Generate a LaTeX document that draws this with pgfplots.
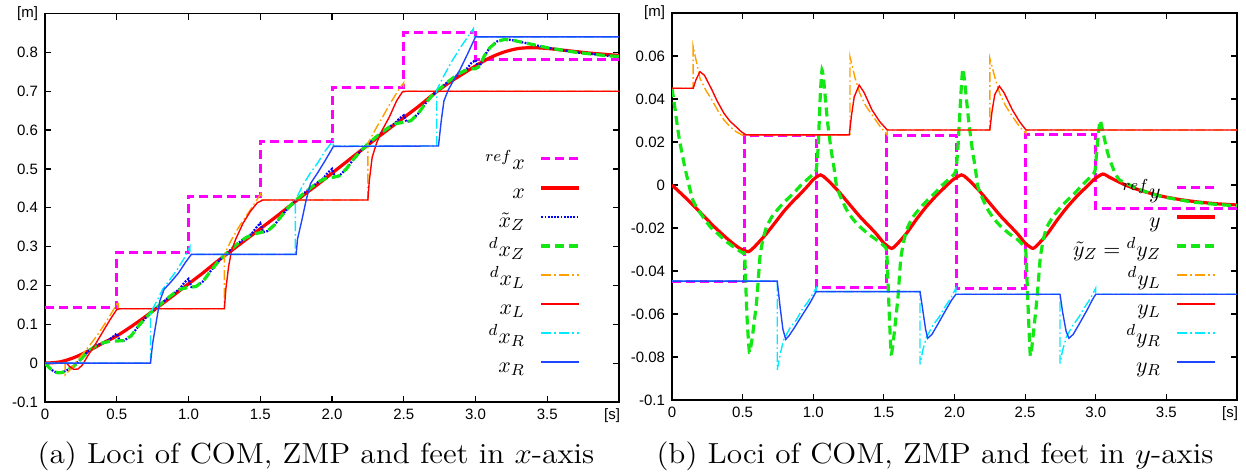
\documentclass[border=0pt]{standalone}
\usepackage{fontspec}
\setsansfont{Liberation Sans}
\usepackage{pgfplots}
\pgfplotsset{compat=1.18}

\definecolor{gpmag}{RGB}{255,0,255}
\definecolor{gpred}{RGB}{255,0,0}
\definecolor{gpblue}{RGB}{0,0,255}
\definecolor{gpgreen}{RGB}{20,232,20}
\definecolor{gporange}{RGB}{255,160,0}
\definecolor{gpcyan}{RGB}{0,235,255}
\definecolor{gpfoot}{RGB}{30,70,255}

\pgfplotsset{
  gpaxis/.style={
    scale only axis, anchor=south west,
    xmin=0, xmax=4,
    axis line style={line width=0.75pt},
    tick align=inside, major tick length=3pt,
    tick style={black, line width=0.6pt},
    xtick={0,0.5,1,1.5,2,2.5,3,3.5,4},
    xticklabels={0,0.5,1.0,1.5,2.0,2.5,3.0,3.5,\hspace*{-7pt}[s]},
    ticklabel style={font=\fontsize{7.5}{9}\selectfont\sffamily},
    legend cell align=right, legend plot pos=right,
    legend image code/.code={\draw[##1] (0pt,3.5pt) -- (19pt,3.5pt);},
    legend style={draw=none, fill=none, inner sep=0pt, outer sep=0pt,
      anchor=north east, font=\fontsize{11}{13}\selectfont,
      row sep=0pt, column sep=7.5pt,
      nodes={inner sep=0pt, text height=9pt, text depth=5.5pt}},
  },
  refstep/.style={gpmag, line width=1.5pt, dash pattern=on 4.5pt off 2.5pt},
  com/.style={gpred, line width=1.6pt},
  zmpt/.style={gpblue, line width=1.1pt, dash pattern=on 0.9pt off 0.7pt},
  zmpd/.style={gpgreen, line width=1.6pt, dash pattern=on 4.5pt off 2.5pt},
  footLd/.style={gporange, line width=0.7pt, dash pattern=on 5pt off 1.5pt on 0.8pt off 1.5pt},
  footL/.style={gpred, line width=0.7pt},
  footRd/.style={gpcyan, line width=0.7pt, dash pattern=on 5pt off 1.5pt on 0.8pt off 1.5pt},
  footR/.style={gpfoot, line width=0.7pt},
}

\begin{document}
\begin{tikzpicture}
\path[use as bounding box] (0pt,0pt) rectangle (623pt,235.5pt);

% (a) x-axis
\begin{axis}[gpaxis, at={(22.5pt,34.5pt)}, width=287pt, height=194.25pt,
  ymin=-0.1, ymax=0.9,
  ytick={-0.1,0,0.1,0.2,0.3,0.4,0.5,0.6,0.7,0.8,0.9},
  yticklabels={-0.1,0,0.1,0.2,0.3,0.4,0.5,0.6,0.7,0.8,\raisebox{-3pt}{[m]}},
  legend style={at={(axis cs:3.735,0.545)}},
]
\addplot[refstep] coordinates {
(0,0.142)(0.5,0.142)(0.5,0.286)(1.0,0.286)(1.0,0.43)(1.5,0.43)(1.5,0.571)(2.0,0.571)
(2.0,0.71)(2.5,0.71)(2.5,0.851)(3.0,0.851)(3.0,0.782)(4.0,0.782)};
\addlegendentry{${}^{ref}x$}
\addplot[com, smooth] coordinates {
(0,0)(0.1,0.003)(0.2,0.014)(0.3,0.031)(0.4,0.051)(0.5,0.07)(0.6,0.094)(0.7,0.12)
(0.8,0.148)(0.9,0.176)(1.0,0.204)(1.1,0.232)(1.2,0.262)(1.3,0.29)(1.4,0.318)(1.5,0.346)
(1.6,0.374)(1.7,0.403)(1.8,0.432)(1.9,0.46)(2.0,0.489)(2.1,0.518)(2.2,0.547)(2.3,0.576)
(2.4,0.604)(2.5,0.632)(2.6,0.66)(2.7,0.69)(2.8,0.718)(2.9,0.742)(3.0,0.765)(3.1,0.786)
(3.2,0.801)(3.3,0.81)(3.4,0.812)(3.5,0.81)(3.6,0.806)(3.7,0.802)(3.8,0.798)(3.9,0.795)(4.0,0.792)};
\addlegendentry{$x$}
\addplot[zmpt] coordinates {
(0,0)(0.03,-0.012)(0.06,-0.021)(0.09,-0.025)(0.12,-0.024)(0.16,-0.017)(0.2,-0.008)
(0.25,0.01)(0.3,0.03)(0.35,0.044)(0.4,0.052)(0.44,0.058)(0.47,0.067)(0.5,0.076)(0.52,0.058)
(0.55,0.058)(0.6,0.07)(0.65,0.095)(0.7,0.116)(0.75,0.134)(0.8,0.15)(0.85,0.166)(0.9,0.18)
(0.94,0.192)(0.97,0.207)(1.0,0.217)(1.02,0.196)(1.05,0.197)(1.1,0.21)(1.15,0.235)(1.2,0.258)
(1.25,0.278)(1.3,0.294)(1.35,0.31)(1.4,0.323)(1.44,0.333)(1.47,0.348)(1.5,0.36)(1.52,0.337)
(1.55,0.34)(1.6,0.356)(1.65,0.38)(1.7,0.402)(1.75,0.42)(1.8,0.436)(1.85,0.451)(1.9,0.465)
(1.94,0.476)(1.97,0.49)(2.0,0.5)(2.02,0.479)(2.05,0.482)(2.1,0.5)(2.15,0.525)(2.2,0.546)
(2.25,0.564)(2.3,0.58)(2.35,0.595)(2.4,0.608)(2.44,0.618)(2.47,0.63)(2.5,0.638)(2.52,0.621)
(2.55,0.624)(2.6,0.642)(2.65,0.668)(2.7,0.69)(2.75,0.706)(2.8,0.722)(2.85,0.736)(2.9,0.748)
(2.94,0.758)(2.97,0.772)(3.0,0.78)(3.02,0.763)(3.04,0.772)(3.06,0.79)(3.1,0.812)(3.15,0.828)
(3.2,0.833)(3.25,0.832)(3.3,0.828)(3.4,0.82)(3.5,0.812)(3.6,0.806)(3.7,0.8)(3.8,0.796)
(3.9,0.792)(4.0,0.789)};
\addlegendentry{$\tilde{x}_Z$}
\addplot[zmpd] coordinates {
(0,0)(0.03,-0.012)(0.06,-0.021)(0.09,-0.025)(0.12,-0.024)(0.16,-0.017)(0.2,-0.008)
(0.25,0.01)(0.3,0.03)(0.35,0.044)(0.4,0.052)(0.45,0.056)(0.5,0.057)(0.55,0.058)(0.6,0.07)
(0.65,0.095)(0.7,0.116)(0.75,0.134)(0.8,0.15)(0.85,0.166)(0.9,0.18)(0.95,0.191)(1.0,0.195)
(1.05,0.197)(1.1,0.21)(1.15,0.235)(1.2,0.258)(1.25,0.278)(1.3,0.294)(1.35,0.31)(1.4,0.323)
(1.45,0.332)(1.5,0.336)(1.55,0.34)(1.6,0.356)(1.65,0.38)(1.7,0.402)(1.75,0.42)(1.8,0.436)
(1.85,0.451)(1.9,0.465)(1.95,0.475)(2.0,0.478)(2.05,0.482)(2.1,0.5)(2.15,0.525)(2.2,0.546)
(2.25,0.564)(2.3,0.58)(2.35,0.595)(2.4,0.608)(2.45,0.617)(2.5,0.62)(2.55,0.624)(2.6,0.642)
(2.65,0.668)(2.7,0.69)(2.75,0.706)(2.8,0.722)(2.85,0.736)(2.9,0.748)(2.95,0.757)(3.0,0.758)
(3.03,0.765)(3.06,0.79)(3.1,0.812)(3.15,0.828)(3.2,0.833)(3.25,0.832)(3.3,0.828)(3.4,0.82)
(3.5,0.812)(3.6,0.806)(3.7,0.8)(3.8,0.796)(3.9,0.792)(4.0,0.789)};
\addlegendentry{${}^{d}x_Z$}
\addplot[footLd] coordinates {
(0,0)(0.14,0)(0.14,-0.03)(0.18,-0.015)(0.22,0.005)(0.27,0.027)(0.32,0.05)(0.37,0.075)
(0.42,0.103)(0.47,0.133)(0.51,0.158)(0.51,0.14)(1.25,0.14)(1.25,0.28)(1.3,0.318)(1.35,0.35)
(1.4,0.378)(1.45,0.405)(1.51,0.44)(1.51,0.42)(2.25,0.42)(2.25,0.566)(2.3,0.6)(2.35,0.632)
(2.4,0.665)(2.45,0.695)(2.5,0.722)(2.5,0.7)(4.0,0.7)};
\addlegendentry{${}^{d}x_L$}
\addplot[footL] coordinates {
(0,0)(0.15,0)(0.17,-0.008)(0.2,-0.016)(0.23,-0.015)(0.26,-0.005)(0.3,0.02)(0.35,0.048)
(0.4,0.079)(0.45,0.11)(0.5,0.138)(0.52,0.14)(1.25,0.14)(1.26,0.19)(1.28,0.25)(1.3,0.29)
(1.33,0.32)(1.38,0.36)(1.43,0.39)(1.48,0.413)(1.52,0.42)(2.25,0.42)(2.26,0.47)(2.28,0.53)
(2.31,0.566)(2.35,0.6)(2.4,0.634)(2.45,0.675)(2.49,0.698)(2.52,0.7)(4.0,0.7)};
\addlegendentry{$x_L$}
\addplot[footRd] coordinates {
(0,0)(0.735,0)(0.735,0.13)(0.78,0.16)(0.82,0.19)(0.87,0.215)(0.92,0.24)(0.97,0.27)
(1.01,0.3)(1.01,0.28)(1.745,0.28)(1.745,0.42)(1.8,0.46)(1.85,0.49)(1.9,0.515)(1.95,0.545)
(2.01,0.574)(2.01,0.559)(2.73,0.559)(2.73,0.703)(2.78,0.74)(2.84,0.78)(2.9,0.815)
(2.985,0.861)(2.985,0.84)(4.0,0.84)};
\addlegendentry{${}^{d}x_R$}
\addplot[footR] coordinates {
(0,0)(0.735,0)(0.75,0.05)(0.77,0.095)(0.8,0.16)(0.83,0.19)(0.88,0.21)(0.93,0.232)
(0.98,0.26)(1.02,0.28)(1.75,0.28)(1.76,0.32)(1.79,0.368)(1.82,0.42)(1.85,0.462)(1.9,0.49)
(1.95,0.52)(2.01,0.558)(2.742,0.559)(2.76,0.62)(2.78,0.675)(2.81,0.703)(2.85,0.73)
(2.89,0.754)(2.95,0.8)(3.0,0.84)(4.0,0.84)};
\addlegendentry{$x_R$}
\end{axis}

% (b) y-axis
\begin{axis}[gpaxis, at={(336pt,35.5pt)}, width=282.5pt, height=193.5pt,
  ymin=-0.1, ymax=0.08,
  ytick={-0.1,-0.08,-0.06,-0.04,-0.02,0,0.02,0.04,0.06,0.08},
  yticklabels={-0.1,-0.08,-0.06,-0.04,-0.02,0,0.02,0.04,0.06,\raisebox{-3pt}{[m]}},
  legend style={at={(axis cs:3.858,0.0021)}},
]
\addplot[refstep] coordinates {
(0,-0.045)(0.515,-0.045)(0.515,0.023)(1.022,0.023)(1.022,-0.0478)(1.52,-0.0478)
(1.52,0.023)(2.013,0.023)(2.013,-0.048)(2.505,-0.048)(2.505,0.0233)(3.0,0.0233)
(3.0,-0.0108)(4.0,-0.0108)};
\addlegendentry{${}^{ref}y$}
\addplot[com, smooth, tension=0.4] coordinates {
(0,0)(0.1,-0.0062)(0.2,-0.0128)(0.3,-0.0195)(0.4,-0.0255)(0.48,-0.0295)(0.54,-0.031)
(0.58,-0.029)(0.63,-0.0255)(0.67,-0.0225)(0.73,-0.0175)(0.79,-0.0124)(0.85,-0.008)
(0.9,-0.0047)(0.96,-0.0005)(1.0,0.0025)(1.05,0.0047)(1.09,0.003)(1.17,-0.0023)(1.25,-0.0085)
(1.33,-0.0147)(1.4,-0.0195)(1.45,-0.023)(1.5,-0.027)(1.555,-0.0295)(1.6,-0.027)(1.66,-0.0225)
(1.73,-0.016)(1.8,-0.0101)(1.87,-0.005)(1.94,-0.0005)(1.99,0.0025)(2.05,0.0047)(2.09,0.003)
(2.17,-0.0023)(2.25,-0.0085)(2.33,-0.0147)(2.4,-0.0195)(2.45,-0.023)(2.5,-0.027)
(2.555,-0.0295)(2.6,-0.027)(2.66,-0.0225)(2.73,-0.016)(2.8,-0.0101)(2.87,-0.005)
(2.94,-0.0005)(2.99,0.0027)(3.05,0.0051)(3.1,0.0035)(3.17,0.0012)(3.24,-0.0008)
(3.35,-0.0032)(3.48,-0.0054)(3.6,-0.0068)(3.71,-0.0078)(3.85,-0.0087)(4.0,-0.0093)};
\addlegendentry{$y$}
\addplot[zmpd, smooth, tension=0.3] coordinates {
(0,0.045)(0.02,0.036)(0.05,0.022)(0.09,0.0085)(0.12,0.0)(0.15,-0.0075)(0.2,-0.013)
(0.27,-0.0194)(0.33,-0.023)(0.387,-0.0264)(0.45,-0.0295)(0.505,-0.0318)(0.515,-0.033)
(0.53,-0.06)(0.548,-0.0778)(0.57,-0.07)(0.6,-0.0535)(0.623,-0.0333)(0.645,-0.025)
(0.67,-0.0194)(0.71,-0.0145)(0.765,-0.0101)(0.81,-0.007)(0.859,-0.0039)(0.91,-0.0003)
(0.953,0.0023)(0.99,0.0045)(1.02,0.0067)(1.035,0.018)(1.05,0.042)(1.062,0.0535)(1.075,0.048)
(1.1,0.03)(1.125,0.017)(1.147,0.008)(1.166,-0.0008)(1.2,-0.0065)(1.237,-0.0116)
(1.28,-0.0158)(1.33,-0.0194)(1.39,-0.0228)(1.45,-0.0256)(1.5,-0.0283)(1.52,-0.031)
(1.535,-0.055)(1.552,-0.0785)(1.575,-0.068)(1.6,-0.052)(1.62,-0.034)(1.645,-0.025)
(1.67,-0.0194)(1.71,-0.0145)(1.765,-0.0101)(1.81,-0.007)(1.859,-0.0039)(1.91,-0.0003)
(1.953,0.0023)(1.99,0.0045)(2.01,0.0067)(2.025,0.018)(2.045,0.042)(2.058,0.054)(2.072,0.048)
(2.1,0.03)(2.125,0.017)(2.147,0.008)(2.166,-0.0008)(2.2,-0.0065)(2.237,-0.0116)
(2.28,-0.0158)(2.33,-0.0194)(2.39,-0.0228)(2.45,-0.0256)(2.49,-0.0283)(2.505,-0.031)
(2.52,-0.055)(2.537,-0.0795)(2.56,-0.068)(2.585,-0.052)(2.607,-0.034)(2.63,-0.025)
(2.655,-0.0194)(2.7,-0.0145)(2.755,-0.0101)(2.8,-0.007)(2.85,-0.0039)(2.9,-0.0003)
(2.94,0.0023)(2.975,0.0045)(2.995,0.0067)(3.01,0.018)(3.03,0.03)(3.05,0.025)(3.08,0.016)
(3.1,0.0116)(3.14,0.005)(3.17,0.0023)(3.24,0.0)(3.3,-0.0018)(3.4,-0.0042)(3.5,-0.0058)
(3.6,-0.007)(3.7,-0.008)(3.85,-0.009)(4.0,-0.0097)};
\addlegendentry{$\tilde{y}_Z={}^{d}y_Z$}
\addplot[footLd] coordinates {
(0,0.045)(0.15,0.045)(0.15,0.0643)(0.198,0.0496)(0.24,0.044)(0.283,0.0395)(0.325,0.0345)
(0.368,0.0302)(0.41,0.0272)(0.453,0.0248)(0.518,0.0225)(0.518,0.0233)(1.26,0.0233)
(1.26,0.0597)(1.295,0.05)(1.33,0.0426)(1.37,0.037)(1.416,0.0326)(1.47,0.0275)(1.524,0.0233)
(1.524,0.0256)(2.25,0.0256)(2.25,0.0589)(2.29,0.049)(2.32,0.0426)(2.36,0.037)(2.41,0.0318)
(2.46,0.0272)(2.506,0.024)(2.506,0.0256)(4.0,0.0256)};
\addlegendentry{${}^{d}y_L$}
\addplot[footL] coordinates {
(0,0.045)(0.15,0.045)(0.17,0.049)(0.198,0.0527)(0.23,0.051)(0.283,0.0442)(0.32,0.039)
(0.368,0.0333)(0.41,0.0297)(0.453,0.0271)(0.49,0.0248)(0.524,0.0233)(1.255,0.0233)
(1.27,0.032)(1.29,0.041)(1.325,0.0465)(1.36,0.043)(1.416,0.0349)(1.47,0.0295)(1.524,0.0256)
(2.25,0.0256)(2.265,0.034)(2.285,0.042)(2.317,0.046)(2.35,0.043)(2.41,0.0349)(2.46,0.0295)
(2.506,0.0256)(4.0,0.0256)};
\addlegendentry{$y_L$}
\addplot[footRd] coordinates {
(0,-0.0447)(0.745,-0.0447)(0.745,-0.086)(0.765,-0.079)(0.79,-0.072)(0.835,-0.0665)
(0.88,-0.0628)(0.92,-0.058)(0.963,-0.0543)(1.02,-0.048)(1.02,-0.0496)(1.756,-0.0496)
(1.756,-0.0834)(1.775,-0.077)(1.8,-0.071)(1.845,-0.0655)(1.89,-0.0615)(1.93,-0.057)
(1.97,-0.053)(2.01,-0.048)(2.01,-0.0508)(2.747,-0.0508)(2.747,-0.083)(2.765,-0.077)
(2.79,-0.071)(2.835,-0.0655)(2.88,-0.0615)(2.92,-0.057)(2.96,-0.053)(3.0,-0.048)
(3.0,-0.0508)(4.0,-0.0508)};
\addlegendentry{${}^{d}y_R$}
\addplot[footR] coordinates {
(0,-0.0447)(0.745,-0.0447)(0.765,-0.0566)(0.785,-0.067)(0.805,-0.0718)(0.83,-0.07)
(0.87,-0.066)(0.93,-0.0597)(0.98,-0.0545)(1.02,-0.0496)(1.756,-0.0496)(1.775,-0.058)
(1.795,-0.067)(1.81,-0.0713)(1.84,-0.0695)(1.88,-0.065)(1.94,-0.058)(1.98,-0.0535)
(2.01,-0.0508)(2.747,-0.0508)(2.765,-0.059)(2.79,-0.068)(2.81,-0.0713)(2.84,-0.0695)
(2.88,-0.065)(2.94,-0.058)(2.975,-0.0535)(3.0,-0.0508)(4.0,-0.0508)};
\addlegendentry{$y_R$}
\end{axis}

\node[anchor=base, font=\fontsize{14.5}{17}\selectfont] at (158pt,4pt)
  {\scalebox{1.08}[1]{(a) Loci of COM, ZMP and feet in $x$-axis}};
\node[anchor=base, font=\fontsize{14.5}{17}\selectfont] at (467.5pt,4pt)
  {\scalebox{1.08}[1]{(b) Loci of COM, ZMP and feet in $y$-axis}};
\end{tikzpicture}
\end{document}
